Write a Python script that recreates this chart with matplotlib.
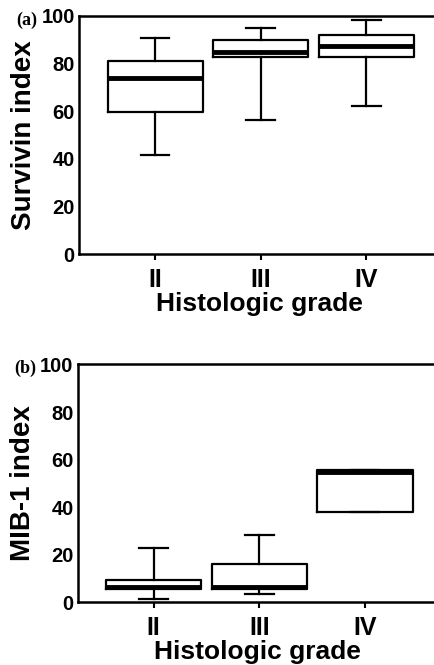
import matplotlib
matplotlib.use("Agg")
import matplotlib.pyplot as plt

grades = ["II", "III", "IV"]

# panel (a) survivin index
surv_low = [41.6, 56.3, 62.3]
surv_q1 = [59.7, 82.6, 82.6]
surv_med = [74.0, 85.0, 87.4]
surv_q3 = [81.0, 90.0, 92.2]
surv_high = [90.8, 95.0, 98.4]

# panel (b) MIB-1 index (grade IV has no whiskers)
mib_low = [1.3, 3.4, 38.0]
mib_q1 = [5.5, 5.5, 38.0]
mib_med = [6.3, 6.3, 54.8]
mib_q3 = [9.6, 16.0, 55.8]
mib_high = [22.7, 28.4, 55.8]

plt.rcParams["font.family"] = ["Liberation Sans", "DejaVu Sans"]
plt.rcParams["font.weight"] = "bold"

fig = plt.figure(figsize=(4.34, 6.65), dpi=100)
ax_a = fig.add_axes([0.182, 0.618, 0.83, 0.358])
ax_b = fig.add_axes([0.179, 0.094, 0.83, 0.358])


def draw_panel(ax, lo, q1, med, q3, hi, ylabel, tag):
    stats = []
    for i in range(len(grades)):
        stats.append(dict(whislo=lo[i], q1=q1[i], med=med[i], q3=q3[i],
                          whishi=hi[i], label=grades[i]))
    ax.bxp(stats, positions=[1, 2, 3], widths=0.9, showfliers=False,
           capwidths=0.27,
           boxprops=dict(color="black", linewidth=1.6),
           whiskerprops=dict(color="black", linewidth=1.6),
           capprops=dict(color="black", linewidth=1.6),
           medianprops=dict(color="black", linewidth=3.5))
    ax.set_xlim(0.28, 3.69)
    ax.set_ylim(0, 100)
    ax.set_yticks([0, 20, 40, 60, 80, 100])
    ax.tick_params(axis="y", length=0, pad=3, labelsize=14.5)
    ax.tick_params(axis="x", length=4, width=1.5, pad=6, labelsize=18)
    for sp in ax.spines.values():
        sp.set_linewidth(1.8)
    ax.spines["right"].set_visible(False)
    ax.set_ylabel(ylabel, fontsize=20, fontweight="bold", labelpad=3)
    ax.set_xlabel("Histologic grade", fontsize=19, fontweight="bold", labelpad=0)
    ax.text(-0.175, 0.983, tag, transform=ax.transAxes, fontsize=13,
            fontweight="bold", family="Liberation Serif", ha="left", va="center")


draw_panel(ax_a, surv_low, surv_q1, surv_med, surv_q3, surv_high,
           "Survivin index", "(a)")
draw_panel(ax_b, mib_low, mib_q1, mib_med, mib_q3, mib_high,
           "MIB-1 index", "(b)")

fig.savefig("out.png", dpi=100)
